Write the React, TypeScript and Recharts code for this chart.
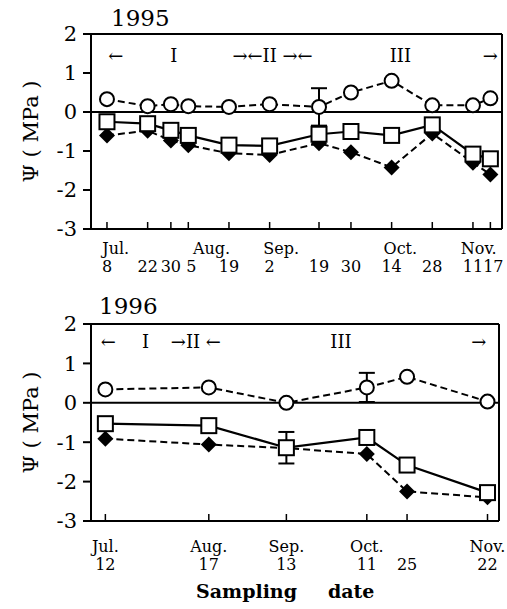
import React from 'react';
import { LineChart, Line, XAxis, YAxis, ReferenceLine, ReferenceDot, ErrorBar } from 'recharts';

const FONT = '"DejaVu Serif", "Liberation Serif", serif';

// 1995 sampling dates as day of year
const days1995 = [189, 203, 211, 217, 231, 245, 262, 273, 287, 301, 315, 321];
const dayLabels1995 = ['8', '22', '30', '5', '19', '2', '19', '30', '14', '28', '11', '17'];
const monthTicks1995 = [192, 225, 249, 290, 317];
const monthLabels1995 = ['Jul.', 'Aug.', 'Sep.', 'Oct.', 'Nov.'];
const circle1995 = [0.33, 0.15, 0.2, 0.15, 0.13, 0.2, 0.13, 0.5, 0.8, 0.17, 0.17, 0.35];
const square1995 = [-0.25, -0.3, -0.47, -0.6, -0.85, -0.87, -0.57, -0.5, -0.6, -0.33, -1.08, -1.2];
const diamond1995 = [-0.6, -0.48, -0.73, -0.85, -1.06, -1.1, -0.8, -1.03, -1.42, -0.55, -1.3, -1.6];
const circleErr1995 = [null, null, null, null, null, null, 0.48, null, null, null, null, null];
const phaseX1995 = [192, 212, 246, 290, 321];
const phaseText1995 = ['\u2190', 'I', '\u2192\u2190II \u2192\u2190', 'III', '\u2192'];

// 1996 sampling dates as day of year
const days1996 = [193, 229, 256, 284, 298, 326];
const dayLabels1996 = ['12', '17', '13', '11', '25', '22'];
const monthTicks1996 = [193, 229, 256, 284, 326];
const monthLabels1996 = ['Jul.', 'Aug.', 'Sep.', 'Oct.', 'Nov.'];
const circle1996 = [0.34, 0.39, 0.0, 0.39, 0.66, 0.03];
const square1996 = [-0.53, -0.58, -1.14, -0.88, -1.58, -2.28];
const diamond1996 = [-0.91, -1.06, -1.15, -1.3, -2.25, -2.4];
const circleErr1996 = [null, null, null, 0.37, null, null];
const squareErr1996 = [null, null, 0.4, null, null, null];
const phaseX1996 = [194, 207, 224.5, 275, 323];
const phaseText1996 = ['\u2190', 'I', '\u2192II \u2190', 'III', '\u2192'];

const yTicks = [-3, -2, -1, 0, 1, 2];

const CircleDot = (p: any) => {
  if (p.cx == null || p.cy == null) return <g />;
  return <circle cx={p.cx} cy={p.cy} r={7} fill="#fff" stroke="#000" strokeWidth={2} />;
};

const SquareDot = (p: any) => {
  if (p.cx == null || p.cy == null) return <g />;
  return <rect x={p.cx - 7.5} y={p.cy - 7.5} width={15} height={15} fill="#fff" stroke="#000" strokeWidth={2} />;
};

const DiamondDot = (p: any) => {
  if (p.cx == null || p.cy == null) return <g />;
  const { cx, cy } = p;
  return <path d={`M${cx},${cy - 8}L${cx + 8},${cy}L${cx},${cy + 8}L${cx - 8},${cy}Z`} fill="#000" />;
};

function DateTick(props: any) {
  const { x, y, payload, days, dayLabels, monthTicks, monthLabels, monthDy, dayDy } = props;
  const di = days.indexOf(payload.value);
  const mi = monthTicks.indexOf(payload.value);
  // push a label right when it sits only a few days after the previous one
  const dx = di > 0 && days[di] - days[di - 1] < 8 ? 3 : 0;
  return (
    <g>
      {di >= 0 && <line x1={x} y1={y} x2={x} y2={y - 7} stroke="#000" strokeWidth={1.5} />}
      {mi >= 0 && (
        <text x={x} y={y + monthDy} textAnchor="middle" fontSize={16} fontFamily={FONT} fill="#000">
          {monthLabels[mi]}
        </text>
      )}
      {di >= 0 && (
        <text x={x + dx} y={y + dayDy} textAnchor="middle" fontSize={16} fontFamily={FONT} fill="#000">
          {dayLabels[di]}
        </text>
      )}
    </g>
  );
}

interface PanelProps {
  days: number[];
  dayLabels: string[];
  monthTicks: number[];
  monthLabels: string[];
  circle: number[];
  square: number[];
  diamond: number[];
  circleErr: (number | null)[];
  squareErr?: (number | null)[];
  phaseX: number[];
  phaseText: string[];
  phaseY: number;
  domain: [number, number];
  height: number;
  marginRight: number;
  monthDy: number;
  dayDy: number;
}

function Panel(props: PanelProps) {
  const data = props.days.map((d, i) => ({
    day: d,
    circle: props.circle[i],
    square: props.square[i],
    diamond: props.diamond[i],
    cErr: props.circleErr[i] ?? undefined,
    sErr: props.squareErr ? props.squareErr[i] ?? undefined : undefined,
  }));
  const ticks = Array.from(new Set([...props.days, ...props.monthTicks])).sort((a, b) => a - b);
  return (
    <LineChart
      width={507}
      height={props.height}
      data={data}
      margin={{ top: 34, right: props.marginRight, left: 0, bottom: 5 }}
    >
      <XAxis
        dataKey="day"
        type="number"
        domain={props.domain}
        ticks={ticks}
        interval={0}
        allowDataOverflow
        height={56}
        axisLine={{ stroke: '#000', strokeWidth: 2 }}
        tickLine={false}
        tickSize={0}
        tickMargin={0}
        tick={(p: any) => (
          <DateTick
            {...p}
            days={props.days}
            dayLabels={props.dayLabels}
            monthTicks={props.monthTicks}
            monthLabels={props.monthLabels}
            monthDy={props.monthDy}
            dayDy={props.dayDy}
          />
        )}
      />
      <YAxis
        type="number"
        domain={[-3, 2]}
        ticks={yTicks}
        interval={0}
        width={91}
        axisLine={{ stroke: '#000', strokeWidth: 2 }}
        tickLine={{ stroke: '#000', strokeWidth: 2 }}
        tickSize={8}
        tickMargin={6}
        tick={{ fontSize: 21, fontFamily: FONT, fill: '#000' }}
        label={{
          value: '\u03A8 ( MPa )',
          angle: -90,
          position: 'center',
          dx: -15,
          fontSize: 21,
          fontFamily: FONT,
          fill: '#000',
        }}
      />
      <ReferenceLine y={2} stroke="#000" strokeWidth={2} />
      <ReferenceLine x={props.domain[1]} stroke="#000" strokeWidth={2} />
      <ReferenceLine y={0} stroke="#000" strokeWidth={2} />
      {props.phaseX.map((x, i) => (
        <ReferenceDot
          key={i}
          x={x}
          y={props.phaseY}
          r={0}
          fill="none"
          stroke="none"
          label={{ value: props.phaseText[i], position: 'center', fontSize: 18, fontFamily: FONT, fill: '#000' }}
        />
      ))}
      <Line
        dataKey="diamond"
        stroke="#000"
        strokeWidth={2}
        strokeDasharray="7 4"
        dot={<DiamondDot />}
        isAnimationActive={false}
      />
      <Line
        dataKey="square"
        stroke="#000"
        strokeWidth={2.2}
        dot={<SquareDot />}
        isAnimationActive={false}
      >
        {props.squareErr && <ErrorBar dataKey="sErr" width={8} stroke="#000" strokeWidth={2} direction="y" />}
      </Line>
      <Line
        dataKey="circle"
        stroke="#000"
        strokeWidth={2}
        strokeDasharray="7 4"
        dot={<CircleDot />}
        isAnimationActive={false}
      >
        <ErrorBar dataKey="cErr" width={8} stroke="#000" strokeWidth={2} direction="y" />
      </Line>
    </LineChart>
  );
}

export default function App() {
  return (
    <div style={{ position: 'absolute', left: 0, top: 0, width: 507, height: 609, background: '#fff', fontFamily: FONT }}>
      <div style={{ position: 'absolute', left: 111, top: 5, fontSize: 23, lineHeight: '26px' }}>1995</div>
      <div style={{ position: 'absolute', left: 0, top: 0 }}>
        <Panel
          days={days1995}
          dayLabels={dayLabels1995}
          monthTicks={monthTicks1995}
          monthLabels={monthLabels1995}
          circle={circle1995}
          square={square1995}
          diamond={diamond1995}
          circleErr={circleErr1995}
          phaseX={phaseX1995}
          phaseText={phaseText1995}
          phaseY={1.44}
          domain={[183.5, 325]}
          height={290}
          marginRight={5}
          monthDy={25}
          dayDy={43}
        />
      </div>
      <div style={{ position: 'absolute', left: 99, top: 293, fontSize: 23, lineHeight: '26px' }}>1996</div>
      <div style={{ position: 'absolute', left: 0, top: 290 }}>
        <Panel
          days={days1996}
          dayLabels={dayLabels1996}
          monthTicks={monthTicks1996}
          monthLabels={monthLabels1996}
          circle={circle1996}
          square={square1996}
          diamond={diamond1996}
          circleErr={circleErr1996}
          squareErr={squareErr1996}
          phaseX={phaseX1996}
          phaseText={phaseText1996}
          phaseY={1.55}
          domain={[188, 330]}
          height={292}
          marginRight={8}
          monthDy={31}
          dayDy={49}
        />
      </div>
      <div style={{ position: 'absolute', left: 196, top: 580, fontSize: 19, lineHeight: '22px', fontWeight: 'bold' }}>
        Sampling
      </div>
      <div style={{ position: 'absolute', left: 328, top: 580, fontSize: 19, lineHeight: '22px', fontWeight: 'bold' }}>
        date
      </div>
    </div>
  );
}
